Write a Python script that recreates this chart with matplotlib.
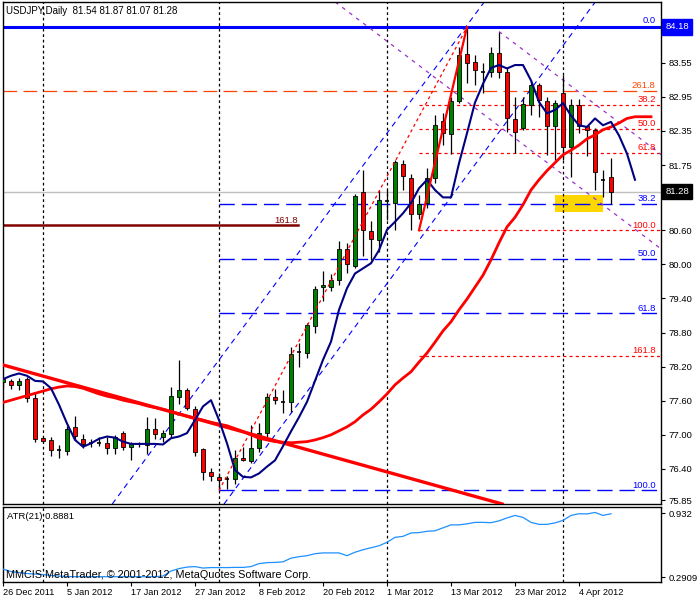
import numpy as np
import matplotlib.pyplot as plt
from matplotlib.patches import Rectangle

W, H = 700, 600
plt.rcParams['font.family'] = ['Liberation Sans', 'DejaVu Sans']

# daily USDJPY bars, 26 Dec 2011 .. 10 Apr 2012 (bar index = position)
opens = [77.93, 77.94, 77.87, 77.98, 77.64, 76.94, 76.91, 76.73, 76.72, 77.13,
         76.92, 76.86, 76.86, 76.85, 76.76, 77.03, 76.78, 76.83, 76.82, 77.11,
         76.96, 77.01, 77.66, 77.79, 77.45, 76.75, 76.34, 76.26, 76.23, 76.22,
         76.60, 76.54, 76.76, 77.03, 77.66, 77.57, 77.57, 78.45, 78.44, 78.92,
         79.60, 79.61, 79.72, 80.28, 79.98, 81.27, 80.59, 80.43, 81.12, 81.09,
         81.77, 81.53, 80.88, 81.09, 81.53, 82.52, 82.29, 82.88, 83.70, 83.57,
         83.39, 83.39, 83.72, 83.38, 82.56, 82.40, 82.81, 83.15, 82.88, 82.44,
         83.01, 82.07, 82.81, 82.44, 82.37, 81.49, 81.54]
highs = [78.00, 77.98, 78.00, 78.01, 77.73, 76.96, 76.97, 76.82, 77.16, 77.33,
         77.01, 76.93, 76.96, 76.97, 77.00, 77.07, 76.87, 76.87, 77.31, 77.30,
         77.09, 77.85, 78.31, 77.82, 77.50, 76.77, 76.41, 76.32, 76.28, 76.74,
         76.79, 77.17, 77.20, 77.73, 77.80, 77.79, 78.54, 78.61, 78.96, 79.62,
         79.89, 79.83, 80.42, 80.37, 81.24, 81.66, 80.76, 81.31, 81.31, 81.84,
         81.84, 81.60, 81.22, 81.69, 82.63, 82.66, 82.95, 83.83, 84.18, 83.69,
         83.54, 83.83, 84.10, 83.48, 82.95, 82.95, 83.25, 83.19, 82.95, 82.89,
         83.33, 82.92, 82.92, 82.45, 82.40, 81.66, 81.87]
lows = [77.85, 77.80, 77.79, 77.58, 76.88, 76.87, 76.62, 76.60, 76.65, 76.91,
        76.76, 76.78, 76.80, 76.67, 76.66, 76.73, 76.56, 76.79, 76.67, 76.92,
        76.88, 76.97, 77.55, 77.44, 76.63, 76.20, 76.18, 76.02, 76.04, 76.13,
        76.54, 76.50, 76.70, 76.97, 77.55, 77.39, 77.40, 78.19, 78.36, 78.80,
        79.36, 79.54, 79.64, 79.85, 79.93, 80.14, 80.08, 80.22, 80.78, 80.60,
        81.31, 80.60, 80.80, 81.00, 81.44, 82.10, 81.95, 82.84, 83.19, 83.16,
        83.01, 83.30, 83.28, 82.34, 81.96, 82.37, 82.63, 82.60, 81.93, 81.84,
        81.84, 81.54, 82.31, 81.90, 81.31, 81.19, 81.07]
closes = [77.98, 77.87, 77.94, 77.64, 76.92, 76.89, 76.73, 76.73, 77.11, 76.98,
          76.84, 76.86, 76.86, 76.76, 76.97, 76.78, 76.83, 76.83, 77.11, 77.01,
          77.03, 77.68, 77.79, 77.47, 76.69, 76.34, 76.28, 76.20, 76.23, 76.60,
          76.56, 76.76, 77.04, 77.66, 77.61, 77.57, 78.43, 78.45, 78.93, 79.56,
          79.64, 79.72, 80.28, 80.01, 81.20, 80.60, 80.44, 81.13, 81.12, 81.80,
          81.56, 80.88, 81.07, 81.53, 82.45, 82.31, 82.88, 83.69, 83.54, 83.43,
          83.39, 83.72, 83.39, 82.57, 82.34, 82.82, 83.16, 82.89, 82.44, 82.85,
          82.07, 82.81, 82.44, 82.37, 81.62, 81.49, 81.28]

# shifted moving averages (they run past the last bar)
fast_ma = [77.98, 78.04, 78.08, 78.04, 77.95, 77.94, 77.82, 77.53, 77.20, 76.91,
           76.79, 76.85, 76.93, 76.97, 76.95, 76.88, 76.84, 76.84, 76.84, 76.84,
           76.83, 76.94, 76.97, 77.03, 77.26, 77.50, 77.61, 77.26, 76.85, 76.38,
           76.26, 76.25, 76.32, 76.44, 76.55, 76.80, 77.06, 77.31, 77.58, 77.95,
           78.32, 78.64, 79.20, 79.58, 79.84, 79.93, 80.02, 80.25, 80.61, 80.75,
           80.90, 81.08, 81.34, 81.49, 81.31, 81.18, 81.18, 81.78, 82.31, 82.85,
           83.18, 83.46, 83.51, 83.45, 83.51, 83.51, 83.24, 82.86, 82.66, 82.72,
           82.84, 82.62, 82.45, 82.42, 82.57, 82.45, 82.51, 82.27, 81.95, 81.49]
slow_ma = [77.57, 77.61, 77.65, 77.69, 77.73, 77.77, 77.81, 77.84, 77.86, 77.85,
           77.82, 77.77, 77.72, 77.68, 77.65, 77.61, 77.58, 77.55, 77.51, 77.48,
           77.45, 77.41, 77.37, 77.33, 77.29, 77.26, 77.22, 77.19, 77.16, 77.11,
           77.06, 77.00, 76.94, 76.91, 76.88, 76.87, 76.86, 76.87, 76.88, 76.91,
           76.95, 77.00, 77.07, 77.14, 77.23, 77.35, 77.45, 77.58, 77.72, 77.88,
           78.00, 78.11, 78.28, 78.44, 78.63, 78.83, 78.99, 79.20, 79.39, 79.60,
           79.81, 80.08, 80.38, 80.66, 80.83, 81.05, 81.31, 81.49, 81.65, 81.79,
           81.93, 82.01, 82.10, 82.21, 82.28, 82.37, 82.42, 82.49, 82.57, 82.60,
           82.60, 82.60]

atr = [0.371, 0.346, 0.336, 0.326, 0.321, 0.316, 0.306, 0.301, 0.296, 0.294,
       0.294, 0.294, 0.294, 0.294, 0.294, 0.294, 0.294, 0.294, 0.294, 0.294,
       0.301, 0.351, 0.376, 0.391, 0.396, 0.381, 0.386, 0.386, 0.386, 0.388,
       0.388, 0.396, 0.426, 0.436, 0.438, 0.444, 0.481, 0.496, 0.506, 0.526,
       0.534, 0.534, 0.534, 0.506, 0.541, 0.566, 0.586, 0.606, 0.641, 0.691,
       0.701, 0.735, 0.739, 0.752, 0.757, 0.787, 0.817, 0.817, 0.827, 0.842,
       0.842, 0.839, 0.857, 0.887, 0.912, 0.892, 0.842, 0.822, 0.822, 0.837,
       0.862, 0.912, 0.929, 0.927, 0.942, 0.912, 0.929]

date_bars = [0, 8, 16, 24, 32, 40, 48, 56, 64, 72]
date_labels = ["26 Dec 2011", "5 Jan 2012", "17 Jan 2012", "27 Jan 2012",
               "8 Feb 2012", "20 Feb 2012", "1 Mar 2012", "13 Mar 2012",
               "23 Mar 2012", "4 Apr 2012"]
month_starts = [5, 27, 48, 70]
price_ticks = [83.55, 82.95, 82.35, 81.75, 81.20, 80.60, 80.00, 79.40,
               78.80, 78.20, 77.60, 77.00, 76.40, 75.85]

# drawn objects: (bar, price) anchors
trend_red = [(0, 78.23), (60, 75.876)]
chan_a = [(13.75, 75.80), (59.875, 84.567)]
chan_c = [(28.0, 75.853), (73.75, 84.567)]
violet_1 = [(42, 84.57), (82, 80.30)]
violet_2 = [(62, 84.10), (82.3, 81.933)]
fib_blue = (27, 76.02, 58, 84.18)     # bar lo, price lo, bar hi, price hi
fib_blue_levels = [0.382, 0.5, 0.618, 1.0]
fib_red = (52, 80.60, 58, 84.18)
fib_red_levels = [0.382, 0.5, 0.618, 1.0, 1.618]
top_line = 84.18
orange_line = 83.06
maroon_line = 80.69
maroon_end = 36.9
bid = 81.28
box = (69.0, 74.96, 80.92, 81.22)

fig = plt.figure(figsize=(W / 100, H / 100), dpi=100)
fig.patch.set_facecolor('white')


def rect(l, t, r, b):
    return [l / W, 1 - b / H, (r - l) / W, (b - t) / H]


ax = fig.add_axes(rect(2.5, 2, 661, 504))
ax2 = fig.add_axes(rect(2.5, 506.5, 661, 582), sharex=ax)
xmin, xmax = -0.0625, 82.25
ax.set_xlim(xmin, xmax)
ax.set_ylim(75.782, 84.62)
ax2.set_ylim(0.2406, 1.0021)

for a in (ax, ax2):
    for s in a.spines.values():
        s.set_linewidth(1.0)
        s.set_color('black')
    for b in month_starts:
        a.axvline(b, color='black', lw=0.9, ls=(0, (2.2, 2.2)), zorder=1)

# horizontal objects
ax.axhline(top_line, color='#0000FF', lw=2.2, zorder=2)
ax.axhline(orange_line, color='#FF4500', lw=0.9, ls=(0, (11, 5)), zorder=1)
ax.plot([xmin, maroon_end], [maroon_line] * 2, color='#800000', lw=1.8, zorder=2)
ax.axhline(bid, color='#C0C0C0', lw=1.0, zorder=1)

b0, plo, b1, phi = fib_blue
for lv in fib_blue_levels:
    p = phi - lv * (phi - plo)
    ax.plot([b0, xmax], [p, p], color='#0000FF', lw=1.0, ls=(0, (11, 5)), zorder=1)
ax.plot([b0, b1], [plo, phi], color='#FF0000', lw=0.9, ls=(0, (2.5, 2.5)), zorder=5)

r0, rlo, r1, rhi = fib_red
for lv in fib_red_levels:
    p = rhi - lv * (rhi - rlo)
    ax.plot([r0, xmax], [p, p], color='#FF0000', lw=0.9, ls=(0, (2.5, 2.5)), zorder=1)
ax.plot([r0, r1], [rlo, rhi], color='#FF0000', lw=1.6, zorder=5)

ax.add_patch(Rectangle((box[0], box[2]), box[1] - box[0], box[3] - box[2],
                       facecolor='#FFD700', edgecolor='none', zorder=0.5))

# trend / channel lines
ax.axline(*trend_red, color='#FF0000', lw=2.4, zorder=4)
for pts in (chan_a, chan_c):
    ax.axline(*pts, color='#0000FF', lw=0.8, ls=(0, (5, 4)), zorder=2)
ax.axline(*violet_1, color='#9932CC', lw=0.9, ls=(0, (3, 4)), zorder=2)
ax.plot(*zip(*violet_2), color='#9932CC', lw=0.9, ls=(0, (3, 4)), zorder=2)

# candles
bw = 0.62
for i, (o, h, l, c) in enumerate(zip(opens, highs, lows, closes)):
    ax.vlines(i, l, h, color='black', lw=0.9, zorder=3)
    if abs(c - o) < 0.005:
        ax.hlines(o, i - bw / 2, i + bw / 2, color='black', lw=1.2, zorder=3.2)
    else:
        ax.bar(i, abs(c - o), bottom=min(o, c), width=bw,
               color='#008000' if c > o else '#FF0000',
               edgecolor='black', linewidth=0.6, zorder=3.1)

ax.plot(range(len(slow_ma)), slow_ma, color='#FF0000', lw=2.0, zorder=4)
ax.plot(range(len(fast_ma)), fast_ma, color='#000080', lw=1.5, zorder=4.5)

# fib level labels
fs = 6.8
lab_x = 0.992
tr = ax.get_yaxis_transform()


def level_label(txt, price, color):
    ax.annotate(txt, (lab_x, price), xycoords=tr, xytext=(0, 0.5),
                textcoords='offset points', ha='right', va='bottom',
                fontsize=fs, color=color, zorder=6)


level_label('0.0', top_line + 0.02, '#0000FF')
level_label('261.8', orange_line, '#FF4500')
for lv in fib_blue_levels:
    level_label('%.1f' % (lv * 100), phi - lv * (phi - plo), '#0000FF')
for lv in fib_red_levels:
    level_label('%.1f' % (lv * 100), rhi - lv * (rhi - rlo), '#FF0000')
ax.annotate('161.8', (maroon_end, maroon_line), xytext=(0, 0.5),
            textcoords='offset points', ha='right', va='bottom',
            fontsize=fs, color='#800000', zorder=6)

# price axis
ax.yaxis.tick_right()
ax.set_yticks(price_ticks)
ax.set_yticklabels(['%.2f' % t for t in price_ticks])
ax.tick_params(axis='y', direction='out', length=3, width=0.8, pad=2.5,
               labelsize=fs, colors='black')
ax.tick_params(axis='x', bottom=False, labelbottom=False)
for val, fc in ((top_line, '#0000FF'), (bid, 'black')):
    ax.annotate('%.2f' % val, (1.0, val), xycoords=tr, xytext=(3.0, 0),
                textcoords='offset points', ha='left', va='center',
                fontsize=fs, color='white', annotation_clip=False, zorder=10,
                bbox=dict(boxstyle='square,pad=0.32', fc=fc, ec=fc))

# ATR window
ax2.plot(range(len(atr)), atr, color='#1E90FF', lw=0.9, zorder=3)
ax2.yaxis.tick_right()
ax2.set_yticks([0.932, 0.2909])
ax2.set_yticklabels(['0.932', '0.2909'])
ax2.tick_params(axis='y', direction='out', length=3, width=0.8, pad=2.5,
                labelsize=fs)
ax2.set_xticks(date_bars)
ax2.set_xticklabels(date_labels, ha='left')
ax2.tick_params(axis='x', direction='out', length=3, width=0.8, pad=1.5,
                labelsize=6.6)
ax2.text(0.007, 0.93, 'ATR(21) 0.8881', transform=ax2.transAxes,
         fontsize=fs, va='top', ha='left')
ax2.text(0.005, 0.02, 'MMCIS MetaTrader, \u00a9 2001-2012, MetaQuotes Software Corp.',
         transform=ax2.transAxes, fontsize=7.8, va='bottom', ha='left', zorder=5)

fig.text(6 / W, 1 - 11 / H, 'USDJPY,Daily  81.54 81.87 81.07 81.28',
         fontsize=7.0, va='center', ha='left')

plt.savefig('out.png', dpi=100)
